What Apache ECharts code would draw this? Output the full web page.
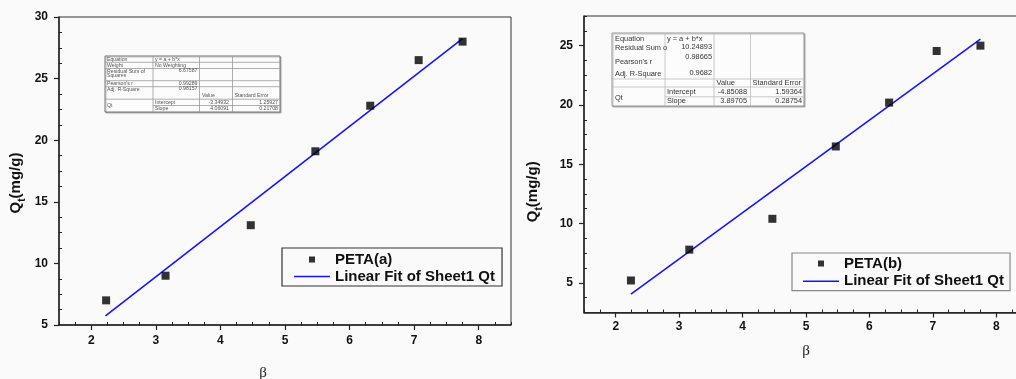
<!DOCTYPE html>
<html><head><meta charset="utf-8">
<script src="https://cdn.jsdelivr.net/npm/echarts@6/dist/echarts.min.js"></script>
<style>html,body{margin:0;padding:0;background:#fafafa}#c{width:1016px;height:379px}</style>
</head><body><div id="c"></div>
<script>
// ---- data ----
const betaA = [2.23, 3.15, 4.47, 5.47, 6.32, 7.07, 7.75];
const qtA   = [7.0, 9.0, 13.1, 19.1, 22.8, 26.5, 28.0];
const fitBetaA = [2.22, 7.75];
const fitQtA   = [5.75, 28.25];

const betaB = [2.24, 3.16, 4.47, 5.47, 6.31, 7.06, 7.75];
const qtB   = [5.2, 7.8, 10.4, 16.5, 20.2, 24.55, 25.0];
const fitBetaB = [2.24, 7.75];
const fitQtB   = [4.05, 25.55];

const xTickLabels  = [2, 3, 4, 5, 6, 7, 8];
const yTickLabelsA = [5, 10, 15, 20, 25, 30];
const yTickLabelsB = [5, 10, 15, 20, 25];

const seriesNameA = 'PETA(a)';
const seriesNameB = 'PETA(b)';
const fitName = 'Linear Fit of Sheet1 Qt';

const tableTextA = [
  ['Equation', 'y = a + b*x'], ['Weight', 'No Weighting'], ['Residual Sum of', 'Squares', '6.67587'],
  ['Pearson\'s r', '0.99289'], ['Adj. R-Square', '0.98157'], ['Value', 'Standard Error'],
  ['Qt', 'Intercept', '-3.34932', '1.25927'], ['Slope', '4.06091', '0.21708']
];
const tableTextB = [
  ['Equation', 'y = a + b*x'], ['Residual Sum o', '10.24893'], ['Pearson\'s r', '0.98665'],
  ['Adj. R-Square', '0.9682'], ['Value', 'Standard Error'],
  ['Qt', 'Intercept', '-4.85088', '1.59364'], ['Slope', '3.89705', '0.28754']
];

// ---- helpers ----
const FONT = 'Liberation Sans, Arial, sans-serif';
function minorVals(min, max, step, majors) {
  const out = [];
  for (let k = 0; min + k * step <= max + 1e-9; k++) {
    const v = Math.round((min + k * step) * 1000) / 1000;
    if (majors.indexOf(v) < 0) out.push(v);
  }
  return out;
}
const labelStyle = {color: '#111', fontSize: 12, fontWeight: 'bold', fontFamily: FONT};
function mainAxis(g, min, max, minors) {
  return {
    type: 'value', gridIndex: g, min: min, max: max,
    axisLine: {show: true, onZero: false, lineStyle: {color: '#222', width: 1.5}},
    axisTick: {show: true, inside: true, length: 3, customValues: minors, lineStyle: {color: '#222', width: 1}},
    axisLabel: {show: false}, splitLine: {show: false}
  };
}
function overlayAxis(g, min, max, majors, pos, margin, name, nameGap, nameStyle) {
  return {
    type: 'value', gridIndex: g, min: min, max: max, position: pos,
    axisLine: {show: false, onZero: false},
    axisTick: {show: true, inside: false, length: 5, customValues: majors, lineStyle: {color: '#222', width: 1.2}},
    axisLabel: Object.assign({customValues: majors, margin: margin}, labelStyle),
    splitLine: {show: false},
    name: name, nameLocation: 'middle', nameGap: nameGap,
    nameRotate: pos === 'left' ? 90 : 0,
    nameTextStyle: nameStyle
  };
}
const qtName = '{q|Q}{s|t}{q|(mg/g)}';
function qtStyle(shift) {
  return {
    padding: [0, shift, 0, 0],
    rich: {
      q: {fontSize: 15, fontWeight: 'bold', fontFamily: FONT, color: '#111', lineHeight: 17, verticalAlign: 'top'},
      s: {fontSize: 10, fontWeight: 'bold', fontFamily: FONT, color: '#111', lineHeight: 11, padding: [9, 0, 0, 0], verticalAlign: 'top'}
    }
  };
}
function betaStyle(padR, padL) {
  return {fontSize: 15, color: '#222', fontFamily: 'Liberation Serif, serif', padding: [0, padR, 0, padL]};
}

// tables drawn as graphic elements
function buildTable(t) {
  const els = [];
  els.push({type: 'rect', shape: {x: t.x0, y: t.y0, width: t.x1 - t.x0, height: t.y1 - t.y0},
    style: {fill: '#fcfcfc', stroke: t.border, lineWidth: 1, shadowColor: 'rgba(0,0,0,0.25)', shadowOffsetX: 1, shadowOffsetY: 1, shadowBlur: 1}, z: 10});
  t.h.forEach(l => els.push({type: 'line', shape: {x1: l[0], y1: l[2], x2: l[1], y2: l[2]}, style: {stroke: t.line, lineWidth: 0.8}, z: 11}));
  t.v.forEach(l => els.push({type: 'line', shape: {x1: l[0], y1: l[1], x2: l[0], y2: l[2]}, style: {stroke: t.line, lineWidth: 0.8}, z: 11}));
  t.texts.forEach(s => els.push({type: 'text', x: s[0], y: s[1], z: 12,
    style: {text: s[2], align: s[3] || 'left', verticalAlign: 'middle', fontSize: t.fs, fontFamily: FONT, fill: t.color}}));
  return els;
}
const TA = tableTextA, TB = tableTextB;
const tableA = buildTable({
  x0: 105, y0: 56, x1: 280, y1: 112, fs: 5.2, color: '#555', border: '#777', line: '#999',
  h: [[105, 280, 62.3], [105, 280, 68.5], [105, 280, 80.7], [105, 280, 86.7], [105, 280, 99.2], [153, 280, 105.5]],
  v: [[153, 56, 112], [199.5, 56, 112], [232.5, 56, 112]],
  texts: [
    [107, 59.3, TA[0][0]], [155, 59.3, TA[0][1]],
    [107, 65.2, TA[1][0]], [155, 65.2, TA[1][1]],
    [107, 71.2, TA[2][0]], [107, 76, TA[2][1]], [197.5, 70.8, TA[2][2], 'right'],
    [107, 83.5, TA[3][0]], [197.5, 83.3, TA[3][1], 'right'],
    [107, 89.3, TA[4][0]], [197.5, 89, TA[4][1], 'right'],
    [202, 95.8, TA[5][0]], [234.5, 95.8, TA[5][1]],
    [107, 106, TA[6][0]], [155, 102.3, TA[6][1]], [229, 102.3, TA[6][2], 'right'], [278, 102.3, TA[6][3], 'right'],
    [155, 108.6, TA[7][0]], [229, 108.6, TA[7][1], 'right'], [278, 108.6, TA[7][2], 'right']
  ]
});
const tableB = buildTable({
  x0: 612, y0: 33, x1: 804, y1: 106, fs: 7.4, color: '#333', border: '#999', line: '#bbb',
  h: [[612, 804, 79], [612, 804, 87], [665, 804, 96.8]],
  v: [[665, 33, 106], [714, 33, 106], [750.5, 33, 106]],
  texts: [
    [615, 39.2, TB[0][0]], [667, 38.6, TB[0][1]],
    [615, 47.5, TB[1][0]], [712, 47.2, TB[1][1], 'right'],
    [615, 61.5, TB[2][0]], [712, 57.2, TB[2][1], 'right'],
    [615, 74, TB[3][0]], [712, 73.4, TB[3][1], 'right'],
    [716.5, 82.5, TB[4][0]], [752.5, 82.5, TB[4][1]],
    [615, 97.5, TB[5][0]], [667, 92, TB[5][1]], [747, 91.6, TB[5][2], 'right'], [802, 91.6, TB[5][3], 'right'],
    [667, 101.3, TB[6][0]], [747, 101.2, TB[6][1], 'right'], [802, 101.2, TB[6][2], 'right']
  ]
});

const sqIcon = 'path://M0,0M36,10M15,2h6v6h-6z';
const lnIcon = 'path://M0,0M36,10M0,4.2h36v1.6h-36z';
const legendText = {fontSize: 15, fontWeight: 'bold', fontFamily: FONT, color: '#111', lineHeight: 15};
const BLUE = '#1414ff';

const xMinor = minorVals(1.5, 8.5, 0.25, xTickLabels);
const yMinorA = minorVals(5, 30, 1.25, yTickLabelsA);
const yMinorB = minorVals(2.5, 27.5, 1.25, yTickLabelsB);

const option = {
  backgroundColor: '#fafafa',
  animation: false,
  grid: [
    {left: 59, top: 17, width: 452, height: 308, show: true, borderColor: '#333', borderWidth: 1,
     backgroundColor: 'transparent', containLabel: false, outerBoundsMode: 'none'},
    {left: 584, top: 16, width: 444, height: 296.5, show: true, borderColor: '#333', borderWidth: 1,
     backgroundColor: 'transparent', containLabel: false, outerBoundsMode: 'none'}
  ],
  xAxis: [
    mainAxis(0, 1.5, 8.5, xMinor),
    overlayAxis(0, 1.5, 8.5, xTickLabels, 'bottom', 10, 'β', 41, betaStyle(44, 0)),
    mainAxis(1, 1.5, 8.5, xMinor),
    overlayAxis(1, 1.5, 8.5, xTickLabels, 'bottom', 8, 'β', 31, betaStyle(0, 0))
  ],
  yAxis: [
    mainAxis(0, 5, 30, yMinorA),
    overlayAxis(0, 5, 30, yTickLabelsA, 'left', 11, qtName, 34, qtStyle(24)),
    mainAxis(1, 2.5, 27.5, yMinorB),
    overlayAxis(1, 2.5, 27.5, yTickLabelsB, 'left', 11, qtName, 42, qtStyle(55))
  ],
  legend: [
    {left: 282, top: 248, orient: 'vertical', itemWidth: 36, itemHeight: 10, itemGap: 2,
     padding: [4, 7, 2, 12], borderColor: '#333', borderWidth: 1.2, textStyle: legendText,
     data: [{name: seriesNameA, icon: sqIcon, itemStyle: {color: '#000', borderWidth: 0}},
            {name: fitName, icon: lnIcon, itemStyle: {color: BLUE, borderWidth: 0}}]},
    {left: 792, top: 253, orient: 'vertical', itemWidth: 36, itemHeight: 10, itemGap: 2.7,
     padding: [3, 6, 2, 11], borderColor: '#888', borderWidth: 1.2, textStyle: legendText,
     data: [{name: seriesNameB, icon: sqIcon, itemStyle: {color: '#000', borderWidth: 0}},
            {name: fitName, icon: lnIcon, itemStyle: {color: BLUE, borderWidth: 0}}]}
  ],
  graphic: tableA.concat(tableB),
  series: [
    {type: 'line', name: fitName, xAxisIndex: 0, yAxisIndex: 0, symbol: 'none',
     data: fitBetaA.map((x, i) => [x, fitQtA[i]]), lineStyle: {color: BLUE, width: 1.6}, itemStyle: {color: BLUE}, z: 2},
    {type: 'scatter', name: seriesNameA, xAxisIndex: 0, yAxisIndex: 0, symbol: 'rect', symbolSize: 8,
     data: betaA.map((x, i) => [x, qtA[i]]), itemStyle: {color: '#000'}, z: 3},
    {type: 'line', name: fitName, xAxisIndex: 2, yAxisIndex: 2, symbol: 'none',
     data: fitBetaB.map((x, i) => [x, fitQtB[i]]), lineStyle: {color: BLUE, width: 1.6}, itemStyle: {color: BLUE}, z: 2},
    {type: 'scatter', name: seriesNameB, xAxisIndex: 2, yAxisIndex: 2, symbol: 'rect', symbolSize: 8,
     data: betaB.map((x, i) => [x, qtB[i]]), itemStyle: {color: '#000'}, z: 3}
  ]
};
const chart = echarts.init(document.getElementById('c'), null, {renderer: 'canvas'});
chart.setOption(option);
</script></body></html>
